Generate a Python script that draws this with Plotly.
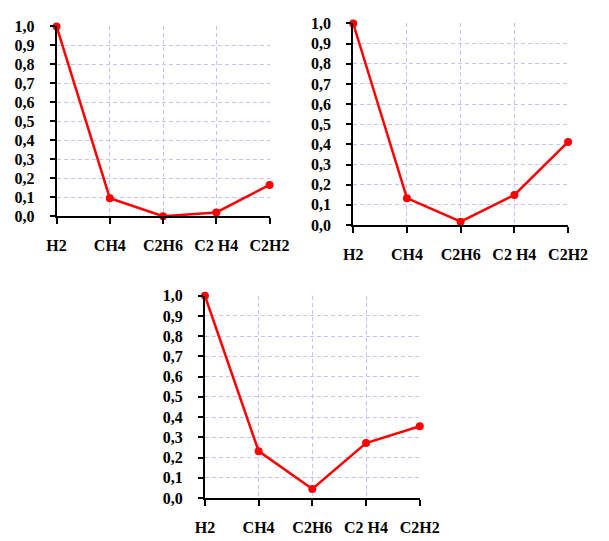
import plotly.graph_objects as go

# Gas names on the category axis
gases = ["H2", "CH4", "C2H6", "C2 H4", "C2H2"]

# Relative gas concentrations (normalised to H2) for the three samples
sample_a = [1.0, 0.095, 0.0, 0.02, 0.165]
sample_b = [1.0, 0.133, 0.016, 0.149, 0.412]
sample_c = [1.0, 0.232, 0.045, 0.272, 0.355]

y_ticks = [i / 10 for i in range(11)]

W, H = 609, 541

# Plot areas in pixels: (left, right, top, bottom)
panels = [
    (sample_a, (49, 273, 19, 215)),
    (sample_b, (361, 587, 16, 224)),
    (sample_c, (205, 431, 297, 506)),
]

fig = go.Figure()
tick_font = dict(family="'Liberation Serif', 'Times New Roman', Times, serif",
                 size=16, color="black", weight="bold")
grid_col = "#c4c4ff"

layout = dict(
    width=W,
    height=H,
    margin=dict(l=0, r=0, t=0, b=0),
    paper_bgcolor="white",
    plot_bgcolor="white",
    showlegend=False,
    separators=", ",
)

for i, (vals, (l, r, t, b)) in enumerate(panels, start=1):
    xa = "x" if i == 1 else f"x{i}"
    ya = "y" if i == 1 else f"y{i}"
    fig.add_trace(go.Scatter(
        x=list(range(len(gases))),
        y=vals,
        mode="lines+markers",
        line=dict(color="#ff0000", width=2.5),
        marker=dict(color="#ff0000", size=8, symbol="circle"),
        cliponaxis=False,
        xaxis=xa,
        yaxis=ya,
    ))
    xkey = "xaxis" if i == 1 else f"xaxis{i}"
    ykey = "yaxis" if i == 1 else f"yaxis{i}"
    layout[xkey] = dict(
        domain=[l / W, r / W],
        anchor=ya,
        range=[0, len(gases) - 1],
        tickmode="array",
        tickvals=list(range(len(gases))),
        ticktext=gases,
        tickfont=tick_font,
        ticks="outside",
        ticklen=6,
        tickwidth=2,
        tickcolor="black",
        ticklabelstandoff=8,
        showline=True,
        linecolor="black",
        linewidth=2,
        zeroline=False,
        showgrid=True,
        gridcolor=grid_col,
        gridwidth=1,
        griddash="4px,3px",
        fixedrange=True,
    )
    layout[ykey] = dict(
        domain=[(H - b) / H, (H - t) / H],
        anchor=xa,
        range=[0, 1],
        tickmode="array",
        tickvals=y_ticks,
        tickformat=".1f",
        tickfont=tick_font,
        ticks="outside",
        ticklen=5,
        tickwidth=2,
        tickcolor="black",
        ticklabelstandoff=12,
        showline=True,
        linecolor="black",
        linewidth=2,
        zeroline=False,
        showgrid=True,
        gridcolor=grid_col,
        gridwidth=1,
        griddash="4px,3px",
        fixedrange=True,
    )

fig.update_layout(**layout)
fig.write_html("out.html")
